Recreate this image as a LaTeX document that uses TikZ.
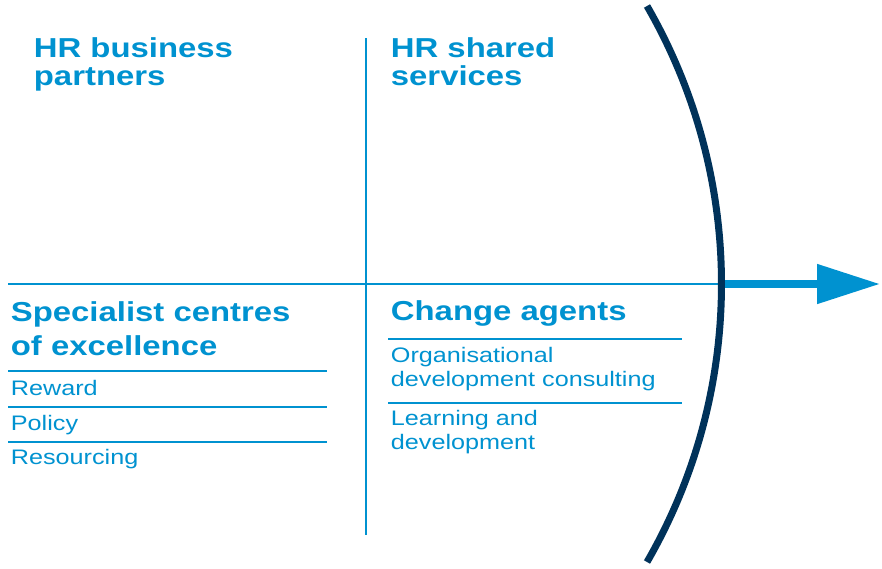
\documentclass[tikz,border=0pt]{standalone}
\usepackage{fontspec}
\setmainfont{Liberation Sans}[FakeStretch=1.2]
\usetikzlibrary{arrows.meta}
\definecolor{hrblue}{RGB}{0,146,208}
\definecolor{hrnavy}{RGB}{0,50,90}

\begin{document}
\begin{tikzpicture}[x=0.5pt, y=-0.5pt, line width=0.9pt,
  head/.style={anchor=base west, inner sep=0pt, align=left, text=hrblue, font=\fontsize{13.7}{14}\bfseries},
  item/.style={anchor=base west, inner sep=0pt, align=left, text=hrblue, font=\fontsize{10.5}{12}\selectfont},
  rule/.style={draw=hrblue, line width=0.9pt}]
\useasboundingbox (0,0) rectangle (882,568);
\coordinate (top) at (366,38);
\coordinate (bottom) at (366,535);
\coordinate (left) at (8,284);
\coordinate (cross) at (722,284);
\coordinate (tip) at (880,284);
\draw[rule] (top) -- (bottom);
\draw[rule] (left) -- (cross);
\draw[hrblue, line width=4pt, -{Triangle[length=31.5pt, width=19pt]}] (cross) -- (tip);
\draw[hrnavy, line width=3.5pt] (647,6) arc[start angle=-30, end angle=30, radius=556];

% multi-line nodes sit on the baseline of their last line
\node[head] (hrbp) at (33,85.7) {HR business\\partners};
\node[head] (hrss) at (390,85.7) {HR shared\\services};
\node[head, font=\fontsize{13.7}{17}\bfseries] (scoe) at (10,355) {Specialist centres\\of excellence};
\node[head] (change) at (390,320.7) {Change agents};

\draw[rule] (8,370.7) -- (327,370.7);
\draw[rule] (8,407) -- (327,407);
\draw[rule] (8,441.7) -- (327,441.7);
\node[item] (reward) at (10,395) {Reward};
\node[item] (policy) at (10,430) {Policy};
\node[item] (resourcing) at (10,464) {Resourcing};

\draw[rule] (388,338.7) -- (682,338.7);
\draw[rule] (388,403) -- (682,403);
\node[item] (orgdev) at (390,386.7) {Organisational\\development consulting};
\node[item] (learning) at (390,449) {Learning and\\development};
\end{tikzpicture}
\end{document}
